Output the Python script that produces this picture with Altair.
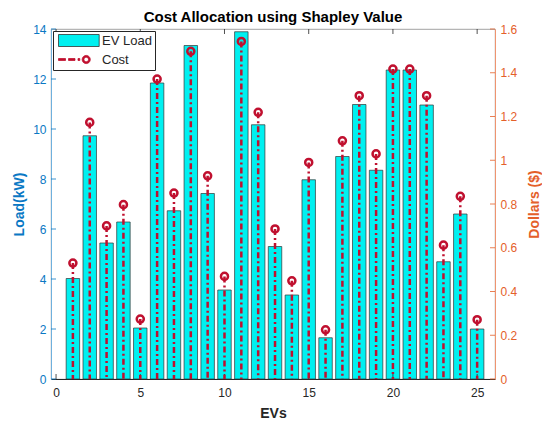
import altair as alt
import pandas as pd

# ---------------- data ----------------
ev = list(range(1, 26))
load_kw = [4.02, 9.73, 5.44, 6.28, 2.04, 11.84, 6.73, 13.34, 7.42, 3.56,
           13.89, 10.17, 5.30, 3.36, 7.97, 1.65, 8.90, 10.98, 8.35, 12.36,
           12.36, 10.96, 4.69, 6.60, 2.00]
cost_usd = [0.530, 1.173, 0.700, 0.797, 0.274, 1.371, 0.850, 1.498, 0.929, 0.469,
            1.543, 1.219, 0.686, 0.449, 0.990, 0.225, 1.089, 1.295, 1.029, 1.417,
            1.417, 1.295, 0.612, 0.835, 0.271]
series = ["EV Load", "Cost"]
x_ticks = [0, 5, 10, 15, 20, 25]
load_ticks = [0, 2, 4, 6, 8, 10, 12, 14]
cost_ticks = [0, 0.2, 0.4, 0.6, 0.8, 1.0, 1.2, 1.4, 1.6]

df = pd.DataFrame({"EV": ev, "Load": load_kw, "Cost": cost_usd})
xt = pd.DataFrame({"t": x_ticks})
lt = pd.DataFrame({"t": load_ticks})
ct = pd.DataFrame({"t": cost_ticks})

# ---------------- style ----------------
FONT = "Liberation Sans"
BLUE = "#0A78C4"
BLUE_LINE = "#6FB0DD"
ORANGE = "#E4602A"
ORANGE_LINE = "#EE9470"
RED = "#C0102F"
CYAN = "#00F0F0"
DARK = "#262626"
X_MIN, X_MAX = -0.3, 26.06
LOAD_MAX, COST_MAX = 14, 1.6

xscale = alt.Scale(domain=[X_MIN, X_MAX], nice=False, zero=False)
yl_scale = alt.Scale(domain=[0, LOAD_MAX], nice=False)
yr_scale = alt.Scale(domain=[0, COST_MAX], nice=False)

x_axis = alt.Axis(values=x_ticks, title="EVs", ticks=False, grid=False,
                  labelPadding=8, titlePadding=8, domainColor=DARK,
                  labelColor=DARK, titleColor=DARK)
yl_axis = alt.Axis(values=load_ticks, title="Load(kW)", ticks=False, grid=False,
                   labelPadding=5, titlePadding=6, domainColor=BLUE_LINE,
                   labelColor=BLUE, titleColor=BLUE)
yr_axis = alt.Axis(values=cost_ticks, title="Dollars ($)", orient="right", format="~g",
                   ticks=False, grid=False, labelPadding=5, titlePadding=25,
                   titleAngle=270, domainColor=ORANGE_LINE,
                   labelColor=ORANGE, titleColor=ORANGE)

# legend swatch paths (units of 6 px, centred 6 px right of the swatch start)
RECT_PATH = "M-1,-1H5.78V1H-1Z"
COST_PATH = ("M-1,-0.16H0.17V0.16H-1Z M0.67,-0.16H1.75V0.16H0.67Z "
             "M2.25,-0.16H2.55V0.16H2.25Z "
             "M4.30,0A0.68 0.68 0 1 0 2.94,0A0.68 0.68 0 1 0 4.30,0Z "
             "M4.00,0A0.38 0.38 0 1 1 3.24,0A0.38 0.38 0 1 1 4.00,0Z")

def leg():
    return alt.Legend(title=None, orient="top-left", offset=2, padding=3,
                      rowPadding=4, symbolSize=144, symbolStrokeWidth=0.8,
                      symbolOpacity=1, symbolOffset=2, labelOffset=31,
                      labelFont=FONT, labelFontSize=13, labelColor=DARK,
                      strokeColor=DARK, fillColor="white")

def X(field):
    return alt.X(field, scale=xscale, axis=x_axis)

def YL(field):
    return alt.Y(field, scale=yl_scale, axis=yl_axis)

def YR(field):
    return alt.Y(field, scale=yr_scale, axis=yr_axis)

base = alt.Chart(df)

bars = base.transform_calculate(
    x0="datum.EV - 0.4", x1="datum.EV + 0.4", zero="0"
).mark_bar(fill=CYAN, stroke="#333333", strokeWidth=0.7).encode(
    x=X("x0:Q"), x2="x1:Q",
    y=YL("Load:Q"), y2="zero:Q",
)

legend_helper = base.transform_calculate(s="'EV Load'").mark_point(opacity=0).encode(
    x=X("EV:Q"), y=YL("Load:Q"),
    fill=alt.Fill("s:N", scale=alt.Scale(domain=series, range=[CYAN, RED]), legend=leg()),
    stroke=alt.Stroke("s:N", scale=alt.Scale(domain=series, range=["#333333", RED]), legend=leg()),
    shape=alt.Shape("s:N", scale=alt.Scale(domain=series, range=[RECT_PATH, COST_PATH]), legend=leg()),
)

tick_kw = dict(size=100, filled=False, strokeWidth=0.8, opacity=1)
bottom_ticks = alt.Chart(xt).transform_calculate(v="0").mark_point(
    shape="M0,0V-1", stroke=DARK, **tick_kw).encode(x=X("t:Q"), y=YL("v:Q"))
top_ticks = alt.Chart(xt).transform_calculate(v=str(LOAD_MAX)).mark_point(
    shape="M0,0V1", stroke=DARK, **tick_kw).encode(x=X("t:Q"), y=YL("v:Q"))
left_ticks = alt.Chart(lt).transform_calculate(v=str(X_MIN)).mark_point(
    shape="M0,0H1", stroke=BLUE, **tick_kw).encode(x=X("v:Q"), y=YL("t:Q"))

stems = base.transform_calculate(zero="0").mark_rule(
    stroke=RED, strokeWidth=2.5, strokeDash=[6, 3, 2, 3]).encode(
    x=X("EV:Q"), y=YR("Cost:Q"), y2="zero:Q",
)
circles = base.mark_point(shape="circle", filled=False, size=50, strokeWidth=2.5,
                          stroke=RED, opacity=1).encode(
    x=X("EV:Q"), y=YR("Cost:Q"),
)
right_ticks = alt.Chart(ct).transform_calculate(v=str(X_MAX)).mark_point(
    shape="M0,0H-1", stroke=ORANGE, **tick_kw).encode(x=X("v:Q"), y=YR("t:Q"))

left = alt.layer(bars, bottom_ticks, top_ticks, left_ticks, legend_helper)
right = alt.layer(stems, circles, right_ticks)

chart = alt.layer(left, right).resolve_scale(y="independent").properties(
    width=444, height=350,
    title=alt.Title("Cost Allocation using Shapley Value", font=FONT, fontSize=15,
                    fontWeight="bold", color="black", anchor="middle",
                    frame="group", offset=4, dy=6),
    autosize=alt.AutoSizeParams(type="none"),
    padding={"left": 43, "top": 21, "right": 47, "bottom": 41},
).configure_axis(
    labelFont=FONT, labelFontSize=12, titleFont=FONT, titleFontSize=14,
    titleFontWeight="bold", domainWidth=1,
).configure_view(stroke="#8a8a8a", strokeWidth=0.8)

chart.save("out.html", embed_options={"renderer": "svg", "actions": False})
